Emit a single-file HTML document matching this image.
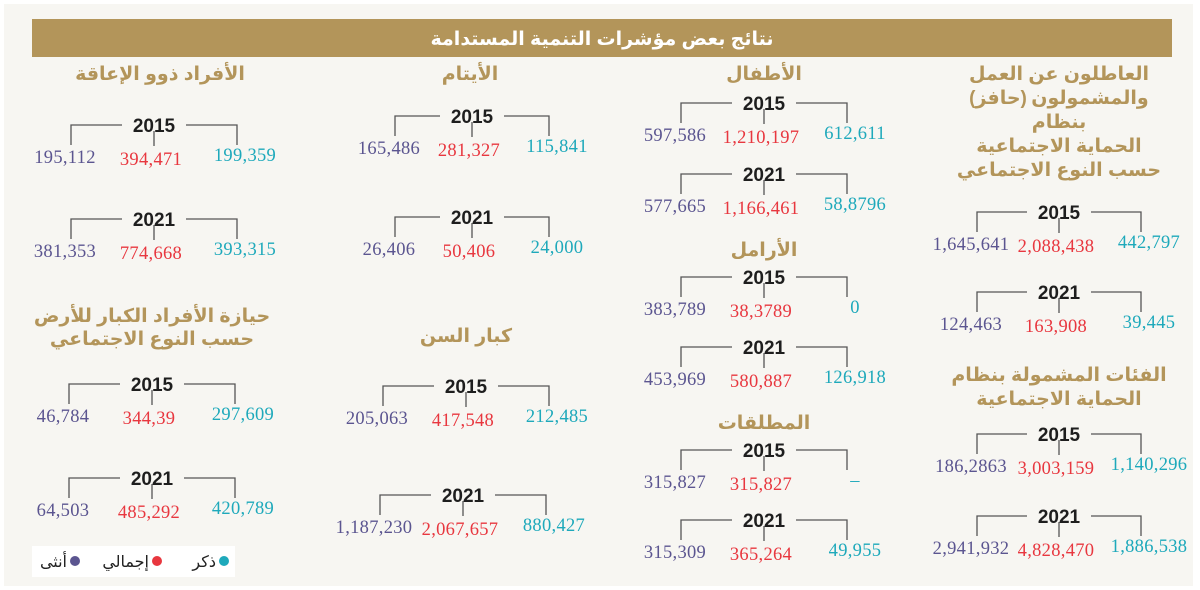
<!DOCTYPE html>
<html><head><meta charset="utf-8">
<style>
html,body{margin:0;padding:0;background:#fff;}
#wrap{position:relative;width:1200px;height:590px;overflow:hidden;}
svg text{font-family:"Liberation Sans","Noto Sans CJK SC","DejaVu Sans",sans-serif;}
.val{font-family:"Liberation Serif",serif !important;font-size:18.5px;letter-spacing:0.3px;}
.yr{font-size:19px;font-weight:bold;fill:#1e1e1e;}
.ttl{font-size:19px;font-weight:bold;fill:#b3955a;}
</style></head>
<body>
<div id="wrap">
<svg id="chart" width="1200" height="590" viewBox="0 0 1200 590" xmlns="http://www.w3.org/2000/svg">
<rect x="4" y="4" width="1189" height="582" fill="#f7f6f2"/>
<rect x="32" y="19" width="1140" height="38" fill="#b3955a"/>
<text x="602" y="45" text-anchor="middle" font-size="19" font-weight="bold" fill="#fff">نتائج بعض مؤشرات التنمية المستدامة</text>

<g>
<text class="ttl" x="1059" y="80" text-anchor="middle">العاطلون عن العمل</text>
<text class="ttl" x="998" y="104" text-anchor="middle">(حافز)</text>
<text class="ttl" x="1090" y="104" text-anchor="middle">والمشمولون</text>
<text class="ttl" x="1059" y="128" text-anchor="middle">بنظام</text>
<text class="ttl" x="1059" y="152" text-anchor="middle">الحماية الاجتماعية</text>
<text class="ttl" x="1059" y="176" text-anchor="middle">حسب النوع الاجتماعي</text>
<text class="ttl" x="1059" y="381" text-anchor="middle">الفئات المشمولة بنظام</text>
<text class="ttl" x="1059" y="405" text-anchor="middle">الحماية الاجتماعية</text>
<text class="ttl" x="764" y="80" text-anchor="middle">الأطفال</text>
<text class="ttl" x="764" y="256" text-anchor="middle">الأرامل</text>
<text class="ttl" x="764" y="429" text-anchor="middle">المطلقات</text>
<text class="ttl" x="470" y="80" text-anchor="middle">الأيتام</text>
<text class="ttl" x="466" y="342" text-anchor="middle">كبار السن</text>
<text class="ttl" x="160" y="80" text-anchor="middle">الأفراد ذوو الإعاقة</text>
<text class="ttl" x="152" y="322" text-anchor="middle">حيازة الأفراد الكبار للأرض</text>
<text class="ttl" x="152" y="345" text-anchor="middle">حسب النوع الاجتماعي</text>
</g>

<g id="groups"></g>

<g>
<rect x="32" y="546" width="203" height="31" fill="#fff"/>
<circle cx="224" cy="561" r="5" fill="#1ea9bb"/>
<text x="216" y="567" text-anchor="end" font-size="16" fill="#222">ذكر</text>
<circle cx="157" cy="561" r="5" fill="#e8373f"/>
<text x="149" y="567" text-anchor="end" font-size="16" fill="#222">إجمالي</text>
<circle cx="75" cy="561" r="5" fill="#5b5590"/>
<text x="67" y="567" text-anchor="end" font-size="16" fill="#222">أنثى</text>
</g>
</svg>
</div>
<script>
// data
const years = ["2015","2021","2015","2021","2015","2021","2015","2021","2015","2021","2015","2021","2015","2021","2015","2021"];
const femaleVals = ["1,645,641","124,463","186,2863","2,941,932","597,586","577,665","383,789","453,969","315,827","315,309","165,486","26,406","205,063","1,187,230","195,112","381,353"];
const totalVals = ["2,088,438","163,908","3,003,159","4,828,470","1,210,197","1,166,461","38,3789","580,887","315,827","365,264","281,327","50,406","417,548","2,067,657","394,471","774,668"];
const maleVals = ["442,797","39,445","1,140,296","1,886,538","612,611","58,8796","0","126,918","–","49,955","115,841","24,000","212,485","880,427","199,359","393,315"];
const groupNames = ["unemployed","unemployed","covered","covered","children","children","widows","widows","divorced","divorced","orphans","orphans","elderly","elderly","disabled","disabled"];
// layout (center x, half-width, line y)
const layoutCx = [1059,1059,1059,1059,764,764,764,764,764,764,472,472,466,463,154,154];
const layoutHw = [82,82,82,82,83,83,83,83,83,83,77,77,83,83,83,83];
const layoutY = [212,292,434,516,103,174,277,347,450,520,116,217,386,495,125,219];
const extraGroups = [[152,384,"land"],[152,478,"land"]];
const landYears=["2015","2021"], landF=["46,784","64,503"], landT=["344,39","485,292"], landM=["297,609","420,789"];

const NS="http://www.w3.org/2000/svg";
const root=document.getElementById('groups');
function mk(tag,attrs,parent){const e=document.createElementNS(NS,tag);for(const k in attrs)e.setAttribute(k,attrs[k]);parent.appendChild(e);return e;}
function drawGroup(cx,hw,y,yr,f,t,m,name){
  const g=mk('g',{},root);
  
  
  const L=cx-hw,R=cx+hw,gap=32;
  const p=mk('path',{d:`M${L} ${y+20}V${y}H${cx-gap}M${cx+gap} ${y}H${R}V${y+20}M${cx} ${y+6}V${y+21}`,stroke:'#555',fill:'none','stroke-width':1.3},g);
  
  
  const ty=mk('text',{x:cx,y:y+7,'text-anchor':'middle',class:'yr'},g);ty.textContent=yr;
  
  
  const vf=mk('text',{x:L-6,y:y+38,'text-anchor':'middle',class:'val',fill:'#5b5590'},g);vf.textContent=f;
  
  
  const vt=mk('text',{x:cx-3,y:y+40,'text-anchor':'middle',class:'val',fill:'#e8373f'},g);vt.textContent=t;
  
  
  const vm=mk('text',{x:R+8,y:y+36,'text-anchor':'middle',class:'val',fill:'#1ea9bb'},g);vm.textContent=m;
  
  
}
for(let i=0;i<years.length;i++){
  drawGroup(layoutCx[i],layoutHw[i],layoutY[i],years[i],femaleVals[i],totalVals[i],maleVals[i],groupNames[i]);
}
for(let i=0;i<landYears.length;i++){
  drawGroup(extraGroups[i][0],83,extraGroups[i][1],landYears[i],landF[i],landT[i],landM[i],'land');
}
</script>
</body></html>
